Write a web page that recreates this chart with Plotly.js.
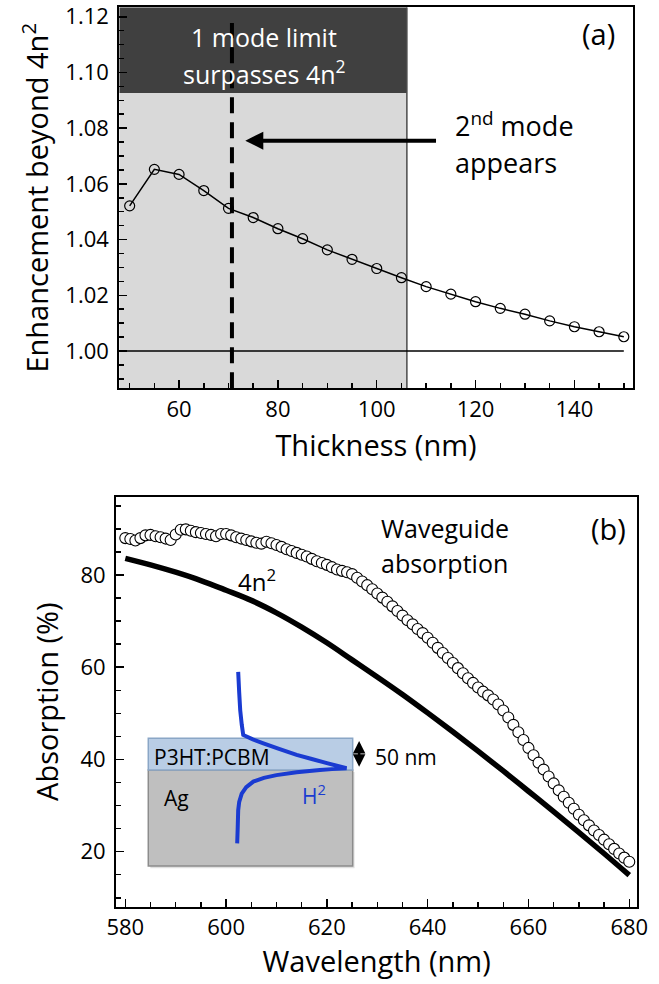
<!DOCTYPE html>
<html>
<head>
<meta charset="utf-8">
<script src="https://cdn.plot.ly/plotly-3.0.1.min.js"></script>
<style>html,body{margin:0;padding:0;background:#fff;}#chart{width:659px;height:984px;}</style>
</head>
<body>
<div id="chart"></div>
<script>
// ---------- Panel (a) data ----------
const thickness = [50,55,60,65,70,75,80,85,90,95,100,105,110,115,120,125,130,135,140,145,150];
const enhancement = [1.0521,1.0652,1.0634,1.0576,1.0512,1.0479,1.0439,1.0403,1.0363,1.0329,1.0296,1.0263,1.0231,1.0204,1.0177,1.0153,1.0132,1.0108,1.0087,1.0069,1.0051];

// ---------- Panel (b) data ----------
const wgWavelength = [580,581,582,583,584,585,586,587,588,589,590,591,592,593,594,595,596,597,598,599,
  600,601,602,603,604,605,606,607,608,609,610,611,612,613,614,615,616,617,618,619,
  620,621,622,623,624,625,626,627,628,629,630,631,632,633,634,635,636,637,638,639,
  640,641,642,643,644,645,646,647,648,649,650,651,652,653,654,655,656,657,658,659,
  660,661,662,663,664,665,666,667,668,669,670,671,672,673,674,675,676,677,678,679,680];
const wgAbsorption = [88.0,87.8,87.5,88.0,88.6,88.7,88.4,88.2,87.9,87.6,
  88.8,89.8,89.9,89.6,89.3,89.1,88.9,88.7,88.4,88.9,
  88.9,88.6,88.2,87.9,87.6,87.3,87.0,86.8,87.2,86.9,
  86.5,86.1,85.6,85.2,84.8,84.4,84.0,83.5,83.0,82.6,
  82.2,81.7,81.2,80.9,80.6,80.2,79.4,78.6,77.8,76.9,
  76.0,75.1,74.2,73.2,72.2,71.2,70.2,69.3,68.3,67.4,
  66.4,65.3,64.2,63.1,62.0,60.9,59.8,58.7,57.6,56.6,
  55.6,54.7,53.9,53.0,51.9,50.6,49.1,47.5,45.9,44.2,
  42.5,40.9,39.3,37.8,36.3,34.8,33.3,31.9,30.6,29.3,
  28.0,26.8,25.7,24.6,23.6,22.6,21.6,20.6,19.6,18.7,17.8];
const limitWavelength = [580,585,590,595,600,605,610,615,620,625,630,635,640,645,650,655,660,665,670,675,680];
const limitAbsorption = [83.6,82.2,80.6,78.8,76.7,74.5,71.8,68.7,65.3,61.6,57.9,54.1,50.1,46.0,41.8,37.5,33.1,28.7,24.2,19.6,14.9];

const FONT = 'Open Sans, sans-serif';

const traces = [
  {x: thickness, y: enhancement, xaxis:'x', yaxis:'y', type:'scatter', mode:'lines+markers',
   line:{color:'black', width:1.5},
   marker:{symbol:'circle', size:10, color:'rgba(0,0,0,0)', line:{color:'black', width:1.2}}},
  {x: limitWavelength, y: limitAbsorption, xaxis:'x2', yaxis:'y2', type:'scatter', mode:'lines',
   line:{color:'black', width:5.5, shape:'spline', smoothing:1}},
  {x: wgWavelength, y: wgAbsorption, xaxis:'x2', yaxis:'y2', type:'scatter', mode:'markers',
   marker:{symbol:'circle', size:11, color:'white', line:{color:'black', width:1.1}}}
];

function axisCommon(){
  return {showline:true, mirror:true, linecolor:'black', linewidth:2, ticks:'inside', ticklen:8,
    tickwidth:1.5, tickcolor:'black', showgrid:false, zeroline:false,
    tickfont:{family:FONT, size:22, color:'black'}};
}

const xa = Object.assign(axisCommon(), {domain:[0.1810,0.9601], range:[47.9,151.8], anchor:'y',
  tick0:0, dtick:20, minor:{dtick:5, tick0:0, ticks:'inside', ticklen:5, tickwidth:1.5, tickcolor:'black'},
  title:{text:'Thickness (nm)', font:{family:FONT, size:29}, standoff:14}});
const ya = Object.assign(axisCommon(), {domain:[0.6054,0.9926], range:[0.9866,1.1234], anchor:'x',
  tick0:1.0, dtick:0.02, tickformat:'.2f', ticklabelstandoff:4,
  minor:{dtick:0.005, tick0:1.0, ticks:'inside', ticklen:5, tickwidth:1.5, tickcolor:'black'},
  title:{text:'Enhancement beyond 4n<sup>2</sup>', font:{family:FONT, size:29}, standoff:8}});
const xb = Object.assign(axisCommon(), {domain:[0.1760,0.9671], range:[578.15,681.6], anchor:'y2',
  tick0:0, dtick:20, minor:{dtick:5, tick0:0, ticks:'inside', ticklen:5, tickwidth:1.5, tickcolor:'black'},
  title:{text:'Wavelength (nm)', font:{family:FONT, size:29}, standoff:12}});
const yb = Object.assign(axisCommon(), {domain:[0.0786,0.4952], range:[8.07,96.98], anchor:'x2',
  tick0:0, dtick:20, ticklabelstandoff:4,
  minor:{dtick:5, tick0:0, ticks:'inside', ticklen:5, tickwidth:1.5, tickcolor:'black'},
  title:{text:'Absorption (%)', font:{family:FONT, size:29}, standoff:13}});

const bluePath = 'M602.4,59.0 L602.6,54.5 L602.8,50.7 L603.1,47.6 L603.4,45.3 L605.2,44.4 L607.4,43.5 ' +
  'L610.5,42.3 L614.0,41.0 L617.0,40.1 L620.0,39.2 L623.9,38.1 L621.0,37.9 L618.6,37.7 L614.0,37.2 ' +
  'L610.0,36.6 L607.5,36.0 L605.4,35.2 L604.0,34.0 L603.1,32.6 L602.6,30.8 L602.4,29.0 L602.3,25.0 L602.2,21.8';

const shapes = [
  // panel (a) shaded regions
  {type:'rect', xref:'x', yref:'y', x0:47.9, x1:106.1, y0:0.9866, y1:1.0926, fillcolor:'#d9d9d9', line:{width:0}, layer:'below'},
  {type:'rect', xref:'x', yref:'y', x0:47.9, x1:106.1, y0:1.0926, y1:1.1234, fillcolor:'#404040', line:{width:0}, layer:'below'},
  {type:'line', xref:'x', yref:'y', x0:106.1, x1:106.1, y0:0.9866, y1:1.1234, line:{color:'#4a4a4a', width:1.5}, layer:'below'},
  {type:'line', xref:'x', yref:'y', x0:47.9, x1:150, y0:1.0, y1:1.0, line:{color:'black', width:1.5}, layer:'below'},
  {type:'line', xref:'x', yref:'y', x0:70.7, x1:70.7, y0:0.9866, y1:1.1178, line:{color:'black', width:4, dash:'16px,9px'}, layer:'above'},
  // panel (b) inset
  {type:'rect', xref:'x2', yref:'y2', x0:584.96, x1:625.5, y0:16.4, y1:37.3, fillcolor:'rgba(0,0,0,0.12)', line:{width:0}, layer:'above'},
  {type:'rect', xref:'x2', yref:'y2', x0:584.56, x1:625.12, y0:16.9, y1:37.7, fillcolor:'#bfbfbf', line:{color:'#8c8c8c', width:1.5}, layer:'above'},
  {type:'rect', xref:'x2', yref:'y2', x0:584.56, x1:625.12, y0:37.7, y1:44.6, fillcolor:'#b9cde5', line:{color:'#8aa6c6', width:1.5}, layer:'above'},
  {type:'path', xref:'x2', yref:'y2', path:bluePath, line:{color:'#1a3bd1', width:4}, layer:'above'}
];

const annotations = [
  {xref:'x', yref:'y', x:77.2, y:1.1128, text:'1 mode limit', showarrow:false, font:{family:FONT, size:25, color:'white'}, xanchor:'center', yanchor:'middle'},
  {xref:'x', yref:'y', x:77.2, y:1.1001, text:'surpasses 4n<sup>2</sup>', showarrow:false, font:{family:FONT, size:25, color:'white'}, xanchor:'center', yanchor:'middle'},
  {xref:'x', yref:'y', x:115.5, y:1.0812, text:'2<sup>nd</sup> mode', showarrow:false, font:{family:FONT, size:27, color:'black'}, xanchor:'left', yanchor:'middle'},
  {xref:'x', yref:'y', x:115.5, y:1.0675, text:'appears', showarrow:false, font:{family:FONT, size:27, color:'black'}, xanchor:'left', yanchor:'middle'},
  {xref:'x', yref:'y', x:144.9, y:1.1141, text:'(a)', showarrow:false, font:{family:FONT, size:29, color:'black'}, xanchor:'center', yanchor:'middle'},
  {xref:'x', yref:'y', x:73.4, y:1.0755, axref:'x', ayref:'y', ax:112.3, ay:1.0755, text:'', showarrow:true,
   arrowhead:2, arrowsize:0.9, arrowwidth:4, arrowcolor:'black'},
  // panel (b)
  {xref:'x2', yref:'y2', x:630.4, y:90.1, text:'Waveguide', showarrow:false, font:{family:FONT, size:25}, xanchor:'left', yanchor:'middle'},
  {xref:'x2', yref:'y2', x:630.4, y:82.5, text:'absorption', showarrow:false, font:{family:FONT, size:25}, xanchor:'left', yanchor:'middle'},
  {xref:'x2', yref:'y2', x:675.8, y:90.1, text:'(b)', showarrow:false, font:{family:FONT, size:29}, xanchor:'center', yanchor:'middle'},
  {xref:'x2', yref:'y2', x:606.2, y:78.9, text:'4n<sup>2</sup>', showarrow:false, font:{family:FONT, size:24}, xanchor:'center', yanchor:'middle'},
  {xref:'x2', yref:'y2', x:585.2, y:40.6, text:'P3HT:PCBM', showarrow:false, font:{family:FONT, size:21}, xanchor:'left', yanchor:'middle'},
  {xref:'x2', yref:'y2', x:587.3, y:31.6, text:'Ag', showarrow:false, font:{family:FONT, size:21}, xanchor:'left', yanchor:'middle'},
  {xref:'x2', yref:'y2', x:614.7, y:32.3, text:'H<sup>2</sup>', showarrow:false, font:{family:FONT, size:21, color:'#1a3bd1'}, xanchor:'left', yanchor:'middle'},
  {xref:'x2', yref:'y2', x:629.2, y:40.45, text:'50 nm', showarrow:false, font:{family:FONT, size:21}, xanchor:'left', yanchor:'middle'},
  {xref:'x2', yref:'y2', x:626.4, y:44.0, axref:'x2', ayref:'y2', ax:626.4, ay:38.1, text:'', showarrow:true,
   arrowhead:2, arrowside:'end+start', arrowsize:1, arrowwidth:2.5, arrowcolor:'black', standoff:0, startstandoff:0}
];

const layout = {
  width:659, height:984, margin:{l:0, r:0, t:0, b:0},
  paper_bgcolor:'white', plot_bgcolor:'white', showlegend:false,
  font:{family:FONT, color:'black'},
  xaxis:xa, yaxis:ya, xaxis2:xb, yaxis2:yb,
  shapes:shapes, annotations:annotations
};

Plotly.newPlot('chart', traces, layout, {displayModeBar:false, staticPlot:true});
</script>
</body>
</html>
